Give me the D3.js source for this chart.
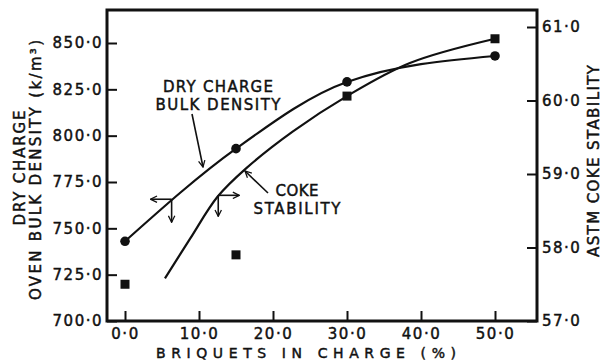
<!DOCTYPE html>
<html><head><meta charset="utf-8">
<script src="https://cdn.jsdelivr.net/npm/d3@7"></script>
<style>
body{margin:0;background:#fff}
svg{display:block;background:#fff}
text{font-family:"DejaVu Sans",sans-serif;fill:#111;stroke:#111;stroke-width:0.45px}
</style></head><body>
<svg id="chart" width="603" height="362"></svg>
<script>
// Briquets in charge (%) for each test
const briquets = [0, 15, 30, 50];
// Dry charge oven bulk density, kg/m3 (left axis)
const bulkDensity = [743, 793, 829, 843];
// ASTM coke stability (right axis)
const cokeStability = [57.5, 57.9, 60.06, 60.84];
// Smoothed stability trend
const trendBriquets = [5.4, 8.8, 12.5, 16.4, 22.7, 30, 38.5, 50];
const trendStability = [57.58, 58.12, 58.69, 59.08, 59.58, 60.06, 60.51, 60.84];
// Axis ticks
const xTicks = [0, 10, 20, 30, 40, 50];
const densityTicks = [700, 725, 750, 775, 800, 825, 850];
const stabilityTicks = [57, 58, 59, 60, 61];

const svg = d3.select("#chart");
const frame = {left: 107, right: 537, top: 10, bottom: 321};

const x = d3.scaleLinear().domain([0, 50]).range([125, 495]);
const yL = d3.scaleLinear().domain([700, 850]).range([321, 43]);
const yR = d3.scaleLinear().domain([57, 61]).range([321, 27]);

const fmt = d => d.toFixed(1).replace(".", "\u00B7");

function styleAxis(g) {
  g.select(".domain").remove();
  g.selectAll(".tick line").attr("stroke", "#111").attr("stroke-width", 2);
  g.selectAll(".tick text")
    .attr("fill", "#111")
    .style("font-family", '"DejaVu Sans", sans-serif')
    .style("font-size", "15px")
    .style("letter-spacing", "1.5px");
}

svg.append("g")
  .attr("transform", `translate(${frame.left},0)`)
  .call(d3.axisLeft(yL).tickValues(densityTicks).tickSize(-10).tickSizeOuter(0).tickPadding(4).tickFormat(fmt))
  .call(styleAxis);

svg.append("g")
  .attr("transform", `translate(${frame.right},0)`)
  .call(d3.axisRight(yR).tickValues(stabilityTicks).tickSize(-10).tickSizeOuter(0).tickPadding(5).tickFormat(fmt))
  .call(styleAxis);

svg.append("g")
  .attr("transform", `translate(0,${frame.bottom})`)
  .call(d3.axisBottom(x).tickValues(xTicks).tickSize(-10).tickSizeOuter(0).tickPadding(7).tickFormat(fmt))
  .call(styleAxis);

// Plot frame
svg.append("path")
  .attr("d", `M${frame.left},${frame.top}H${frame.right}V${frame.bottom}H${frame.left}Z`)
  .attr("fill", "none").attr("stroke", "#111").attr("stroke-width", 3);

// Arrowhead
const defs = svg.append("defs");
defs.append("marker")
  .attr("id", "arrow").attr("viewBox", "0 0 10 10")
  .attr("refX", 9).attr("refY", 5)
  .attr("markerWidth", 8).attr("markerHeight", 8)
  .attr("markerUnits", "userSpaceOnUse")
  .attr("orient", "auto")
  .append("path").attr("d", "M1,1L9,5L1,9")
  .attr("fill", "none").attr("stroke", "#111").attr("stroke-width", 1.6);

// Bulk density curve and points
const densityPts = briquets.map((b, i) => [b, bulkDensity[i]]);
svg.append("path")
  .attr("d", d3.line().x(d => x(d[0])).y(d => yL(d[1])).curve(d3.curveMonotoneX)(densityPts))
  .attr("fill", "none").attr("stroke", "#111").attr("stroke-width", 2.2);
svg.selectAll("circle.density").data(densityPts).join("circle")
  .attr("class", "density")
  .attr("cx", d => x(d[0])).attr("cy", d => yL(d[1])).attr("r", 4.8).attr("fill", "#111");

// Coke stability trend and points
const trendPts = trendBriquets.map((b, i) => [b, trendStability[i]]);
svg.append("path")
  .attr("d", d3.line().x(d => x(d[0])).y(d => yR(d[1])).curve(d3.curveCatmullRom)(trendPts))
  .attr("fill", "none").attr("stroke", "#111").attr("stroke-width", 2.2);
const sq = 9;
svg.selectAll("rect.stability").data(briquets.map((b, i) => [b, cokeStability[i]])).join("rect")
  .attr("class", "stability")
  .attr("x", d => x(d[0]) - sq / 2).attr("y", d => yR(d[1]) - sq / 2)
  .attr("width", sq).attr("height", sq).attr("fill", "#111");

// Axis indicators on each curve
function indicator(px, py, dx, dy) {
  const g = svg.append("g").attr("fill", "none").attr("stroke", "#111").attr("stroke-width", 1.6);
  g.append("line").attr("x1", px).attr("y1", py).attr("x2", px + dx).attr("y2", py).attr("marker-end", "url(#arrow)");
  g.append("line").attr("x1", px).attr("y1", py).attr("x2", px).attr("y2", py + dy).attr("marker-end", "url(#arrow)");
}
indicator(x(6.3), yL(765.7), -21, 23);
indicator(x(12.6), yR(58.71), 21, 21);

// Curve labels with leaders
function label(lines, cx, baselines, lengths) {
  lines.forEach((t, i) => {
    svg.append("text").attr("x", cx).attr("y", baselines[i])
      .attr("text-anchor", "middle").style("font-size", "15px")
      .attr("textLength", lengths[i]).attr("lengthAdjust", "spacing")
      .text(t);
  });
}
label(["DRY CHARGE", "BULK DENSITY"], 218, [92, 110], [110, 125]);
label(["COKE", "STABILITY"], 297, [196, 214], [43, 87]);

svg.append("line").attr("x1", 192).attr("y1", 114).attr("x2", 203).attr("y2", 167)
  .attr("stroke", "#111").attr("stroke-width", 1.6).attr("marker-end", "url(#arrow)");
svg.append("line").attr("x1", 268).attr("y1", 193).attr("x2", 245).attr("y2", 171)
  .attr("stroke", "#111").attr("stroke-width", 1.6).attr("marker-end", "url(#arrow)");

// Axis titles
function vtitle(t, bx, cy, len) {
  svg.append("text")
    .attr("transform", `translate(${bx},${cy}) rotate(-90)`)
    .attr("text-anchor", "middle").style("font-size", "15px")
    .attr("textLength", len).attr("lengthAdjust", "spacing")
    .text(t);
}
vtitle("DRY  CHARGE", 25, 168, 115);
vtitle("OVEN BULK DENSITY (k/m\u00B3)", 41, 170, 260);
vtitle("ASTM  COKE  STABILITY", 599, 161, 192);

svg.append("text").attr("x", 306).attr("y", 358)
  .attr("text-anchor", "middle").style("font-size", "14px")
  .attr("textLength", 300).attr("lengthAdjust", "spacing")
  .text("BRIQUETS  IN  CHARGE  (%)");
</script>
</body></html>
